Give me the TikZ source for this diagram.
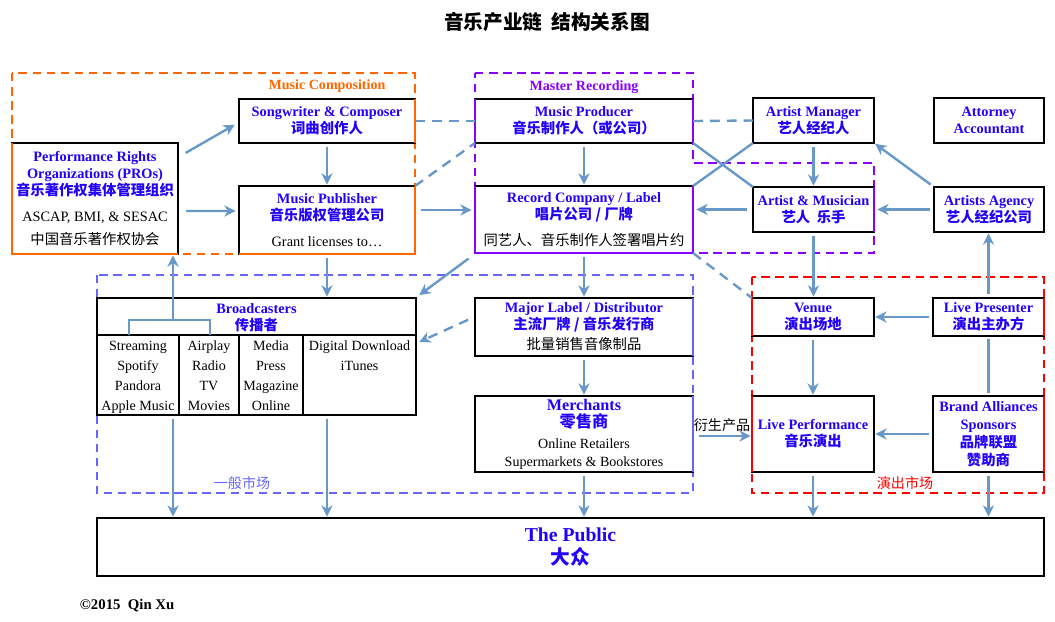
\documentclass[tikz,border=0pt]{standalone}
\usepackage{fontspec}
\setmainfont{Liberation Serif}
\newfontfamily\cjk{Noto Sans CJK SC}
\usepackage{xcolor}
\usetikzlibrary{positioning,arrows.meta,calc}
\definecolor{labelblue}{RGB}{35,0,250}
\definecolor{flowblue}{RGB}{104,152,200}
\definecolor{compocolor}{RGB}{255,102,0}
\definecolor{mastercolor}{RGB}{136,0,255}
\definecolor{marketcolor}{RGB}{102,102,255}
\definecolor{livecolor}{RGB}{255,0,0}
\newcommand{\zh}[1]{{\cjk #1}}
\newcommand{\hd}{\bfseries\color{labelblue}}
\newcommand{\nd}{\mdseries\color{black}}
\tikzset{
    player/.style={rectangle, draw=black, line width=1.6pt, fill=white, align=center, inner sep=0pt, outer sep=0pt, font=\fontsize{10.2}{12.2}\selectfont},
    region/.style={line width=1.5pt, dash pattern=on 6pt off 4pt},
    edge mark/.style={line width=1.6pt},
    divider/.style={line width=1pt, black},
    flow/.style={-{Stealth[length=8pt,width=8pt,inset=2.5pt]}, line width=1.7pt, flowblue, shorten <=3pt, shorten >=1pt},
    link/.style={line width=1.7pt, flowblue},
    soft link/.style={link, dash pattern=on 7pt off 5pt},
    region label/.style={font=\fontsize{10}{12}\selectfont\bfseries},
    market label/.style={font=\fontsize{10}{12}\selectfont\cjk},
    column/.style={align=center, anchor=north, inner sep=0pt, font=\fontsize{10}{14.2}\selectfont}
}

\begin{document}
\begin{tikzpicture}[x=0.025cm, y=-0.025cm]
    \useasboundingbox (0,0) rectangle (1055,621);

    % Title
    \node[font=\fontsize{14}{16}\selectfont\cjk\bfseries] (title) at (547,22) {音乐产业链\ \ 结构关系图};

    % Market regions (dashed frames)
    \draw[region, compocolor] (12,73) rectangle (415,254);
    \draw[region, mastercolor] (475,73) -- (693,73) -- (693,163) -- (874,163) -- (874,253) -- (475,253) -- cycle;
    \draw[region, marketcolor] (97,275) rectangle (693,493);
    \draw[region, livecolor] (752,277) rectangle (1044,493);

    \node[region label, text=compocolor] (compolbl) at (327,86) {Music Composition};
    \node[region label, text=mastercolor] (masterlbl) at (584,87) {Master Recording};
    \node[market label, text=marketcolor] (marketlbl) at (242,483) {一般市场};
    \node[market label, text=livecolor] (livelbl) at (905,483) {演出市场};

    % Composition side
    \node[player, minimum width=4.15cm, minimum height=2.775cm] (pro) at (95,198.5) {\hd Performance Rights\\ \hd Organizations (PROs)\\ \hd\zh{音乐著作权集体管理组织}\\[6pt] \nd ASCAP, BMI, \& SESAC\\[4pt] \nd\zh{中国音乐著作权协会}};
    \node[player, minimum width=4.4cm, minimum height=1.1cm] (songw) at (327,121) {\hd Songwriter \& Composer\\ \hd\zh{词曲创作人}};
    \node[player, minimum width=4.4cm, minimum height=1.7cm] (pub) at (327,220) {\hd Music Publisher\\ \hd\zh{音乐版权管理公司}\\[6pt] \nd Grant licenses to…};

    % Recording side
    \node[player, minimum width=5.45cm, minimum height=1.1cm] (prod) at (584,121) {\hd Music Producer\\ \hd\zh{音乐制作人（或公司）}};
    \node[player, minimum width=5.45cm, minimum height=1.675cm] (label) at (584,219.5) {\hd Record Company / Label\\ \hd\zh{唱片公司 / 厂牌}\\[6pt] \nd\zh{同艺人、音乐制作人签署唱片约}};

    % Artist side
    \node[player, minimum width=3.025cm, minimum height=1.125cm] (mgr) at (813.5,120.5) {\hd Artist Manager\\ \hd\zh{艺人经纪人}};
    \node[player, minimum width=2.75cm, minimum height=1.125cm] (lawyer) at (989,120.5) {\hd Attorney\\ \hd Accountant};
    \node[player, minimum width=3.025cm, minimum height=1.125cm] (artist) at (813.5,209.5) {\hd Artist \& Musician\\ \hd\zh{艺人\ \ 乐手}};
    \node[player, minimum width=2.75cm, minimum height=1.125cm] (agency) at (989,209.5) {\hd Artists Agency\\ \hd\zh{艺人经纪公司}};

    % Broadcasters table
    \node[player, minimum width=7.975cm, minimum height=2.925cm] (broad) at (256.5,356.5) {};
    \node[align=center, inner sep=0pt, font=\fontsize{10.2}{12.2}\selectfont] (broadhd) at (256.5,318) {\hd Broadcasters\\ \hd\zh{传播者}};
    \coordinate (hdline) at (256.5,335);
    \draw[divider] (broad.west |- hdline) -- (broad.east |- hdline);
    \foreach \x in {179,239,303}
        \draw[divider] (\x,335) -- (\x,415);
    \node[column] (col1) at (138,340.5) {Streaming\\Spotify\\Pandora\\Apple Music};
    \node[column] (col2) at (209,340.5) {Airplay\\Radio\\TV\\Movies};
    \node[column] (col3) at (271,340.5) {Media\\Press\\Magazine\\Online};
    \node[column] (col4) at (359.5,340.5) {Digital Download\\iTunes};

    % Distribution
    \node[player, minimum width=5.45cm, minimum height=1.45cm] (major) at (584,327) {\hd Major Label / Distributor\\ \hd\zh{主流厂牌 / 音乐发行商}\\[2pt] \nd\zh{批量销售音像制品}};
    \node[player, minimum width=5.45cm, minimum height=1.9cm, font=\fontsize{10}{12.6}\selectfont] (merch) at (584,434) {\hd\fontsize{11.5}{12.6}\selectfont Merchants\\ \hd\fontsize{11.5}{12.6}\selectfont\zh{零售商}\\[2pt] \nd\fontsize{10}{12.6}\selectfont Online Retailers\\ \nd Supermarkets \& Bookstores};

    % Live market
    \node[player, minimum width=3.05cm, minimum height=0.95cm] (venue) at (813,317) {\hd Venue\\ \hd\zh{演出场地}};
    \node[player, minimum width=2.775cm, minimum height=0.95cm] (presenter) at (988.5,317) {\hd Live Presenter\\ \hd\zh{演出主办方}};
    \node[player, minimum width=3.05cm, minimum height=1.9cm] (live) at (813,434) {\hd Live Performance\\ \hd\zh{音乐演出}};
    \node[player, minimum width=2.775cm, minimum height=1.9cm, font=\fontsize{10.2}{12.8}\selectfont] (brand) at (988.5,434) {\hd Brand Alliances\\ \hd Sponsors\\ \hd\zh{品牌联盟}\\ \hd\zh{赞助商}};

    % The public
    \node[player, minimum width=23.675cm, minimum height=1.45cm, font=\fontsize{14}{16.5}\selectfont] (public) at (570.5,547) {\hd The Public\\ \hd\zh{大众}};

    % Box edges lying on the region frames
    \draw[edge mark, compocolor] (pro.north west) -- (pro.south west) -- (pro.south east);
    \draw[edge mark, compocolor] (songw.north east) -- (songw.south east);
    \draw[edge mark, compocolor] (pub.north east) -- (pub.south east) -- (pub.south west);
    \draw[edge mark, mastercolor] (prod.north west) -- (prod.south west);
    \draw[edge mark, mastercolor] (prod.north east) -- (prod.south east);
    \draw[edge mark, mastercolor] (label.north west) -- (label.south west) -- (label.south east) -- (label.north east);
    \draw[edge mark, mastercolor] (artist.north east) -- (artist.south east);
    \draw[edge mark, marketcolor] (major.north east) -- (major.south east);
    \draw[edge mark, marketcolor] (merch.north east) -- (merch.south east);
    \draw[edge mark, livecolor] (venue.north west) -- (venue.south west);
    \draw[edge mark, livecolor] (live.north west) -- (live.south west);
    \draw[edge mark, livecolor] (presenter.north east) -- (presenter.south east);
    \draw[edge mark, livecolor] (brand.north east) -- (brand.south east);

    % Composition flows
    \draw[flow] ($(pro.north east)+(4,12)$) -- ($(songw.west)+(-3,3)$);
    \draw[flow] ($(pro.east)+(4,12.5)$) -- ($(pub.west)+(-2,-9)$);
    \draw[flow] (songw) -- (pub);
    \draw[soft link] (songw.east) -- (prod.west);
    \draw[soft link] (prod.east) -- (mgr.west);
    \draw[soft link] (pub.north east) -- (prod.south west);

    % Recording flows
    \draw[flow] (prod) -- (label);
    \draw[flow] ($(pub.east)+(2,-10)$) -- ($(label.west)+(-2,-9.5)$);
    \draw[flow] ($(artist.west)+(-2,0)$) -- ($(label.east |- artist.west)+(2,0)$);
    \draw[flow] (agency.west) -- ($(artist.east)+(2,0)$);
    \draw[flow] (agency.north west) -- (mgr.south east);
    \draw[flow] (mgr) -- (artist);
    \draw[link] (prod.south east) -- (artist.north west);
    \draw[link] (mgr.south west) -- (label.north east);

    % Into the markets
    \draw[flow] ($(label.south west)+(-3,3)$) -- ($(broad.north east)+(2,-2)$);
    \draw[flow] (pub.south) -- (pub |- broad.north);
    \draw[flow, dash pattern=on 7pt off 5pt] ($(major.west)+(-3,-9)$) -- ($(broad.east)+(2,-14)$);
    \draw[flow] (label) -- (major);
    \draw[soft link] (label.south east) -- (venue.north west);
    \draw[flow] (artist.south) -- (artist.south |- venue.north);
    \draw[flow] (presenter.north) -- (presenter.north |- agency.south);
    \draw[flow] (presenter.west) -- (venue.east);
    \draw[flow] (venue) -- (live);
    \draw[link, shorten <=2pt, shorten >=2pt] (presenter) -- (brand);
    \draw[flow] (brand.west) -- (live.east);
    \draw[flow] (major) -- (merch);

    % Derived products
    \node[market label] (deriv) at (722,425) {衍生产品};
    \draw[flow] ($(merch.east)+(2,2)$) -- ($(live.west)+(0,2)$);

    % Broadcasters back to PROs
    \coordinate (brk) at (173,320);
    \draw[link] (129,335) |- (brk) -| (210,335);
    \draw[flow, shorten <=0pt] (brk) -- (brk |- pro.south);

    % Down to the public
    \draw[flow] (brk |- broad.south) -- (brk |- public.north);
    \draw[flow] (pub |- broad.south) -- (pub |- public.north);
    \draw[flow] (merch.south) -- (merch |- public.north);
    \draw[flow] (live.south) -- (live |- public.north);
    \draw[flow] (brand.south) -- (brand |- public.north);

    % Credit
    \node[anchor=west, font=\fontsize{10.5}{12}\selectfont\bfseries] (credit) at (75,606) {©2015\ \ Qin Xu};
\end{tikzpicture}
\end{document}
